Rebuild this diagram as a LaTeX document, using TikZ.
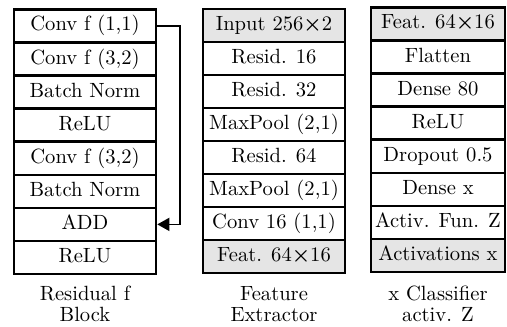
\documentclass[tikz,border=0pt]{standalone}
\usepackage{graphicx}
\usetikzlibrary{arrows.meta}
\newcommand{\celltext}[1]{\scalebox{2.06}{\fontsize{10}{12}\selectfont\strut #1}}
\newcommand{\captext}[1]{\scalebox{2.06}{\fontsize{10}{10.2}\selectfont\begin{tabular}{@{}c@{}}#1\end{tabular}}}
\begin{document}
\begin{tikzpicture}[x=1pt,y=-1pt,
  cell/.style={draw, line width=2.6pt, inner sep=0pt, minimum height=33.06pt},
  c12/.style={cell, minimum width=142pt},
  c3/.style={cell, minimum width=134pt},
  shade/.style={fill=black!10},
  captxt/.style={inner sep=0pt},
  conn/.style={line width=1.4pt, -{Triangle[length=12pt,width=13pt]}}
]
\useasboundingbox (0,0) rectangle (507,327);
% Column 1: Residual block
\foreach \t [count=\i] in {{Conv f (1,1)},{Conv f (3,2)},{Batch Norm},{ReLU},{Conv f (3,2)},{Batch Norm},{ADD},{ReLU}}
  \node[c12] (a\i) at (85,{9.5+33.06*(\i-0.5)}) {\celltext{\t}};
% Column 2: Feature extractor
\foreach \t [count=\i] in {{Input 256\textbf{×}2},{Resid. 16},{Resid. 32},{MaxPool (2,1)},{Resid. 64},{MaxPool (2,1)},{Conv 16 (1,1)},{Feat. 64\textbf{×}16}}
  \node[c12] (b\i) at (274,{9+33*(\i-0.5)}) {\celltext{\t}};
% Column 3: Classifier
\foreach \t [count=\i] in {{Feat. 64\textbf{×}16},{Flatten},{Dense 80},{ReLU},{Dropout 0.5},{Dense x},{Activ. Fun. Z},{Activations x}}
  \node[c3] (c\i) at (438,{7.5+33.06*(\i-0.5)}) {\celltext{\t}};
% re-draw shaded cells
\node[c12, shade] (b1s) at (b1) {\celltext{Input 256\textbf{×}2}};
\node[c12, shade] (b8s) at (b8) {\celltext{Feat. 64\textbf{×}16}};
\node[c3, shade] (c1s) at (c1) {\celltext{Feat. 64\textbf{×}16}};
\node[c3, shade] (c8s) at (c8) {\celltext{Activations x}};
% skip connection
\coordinate (k1) at (180,0);
\draw[conn] (a1.east) -- (a1.east -| k1) -- (a7.east -| k1) -- (a7.east);
% captions
\node[captxt] (capa) at (85,307) {\captext{Residual f\\Block}};
\node[captxt] (capb) at (274,307) {\captext{Feature\\Extractor}};
\node[captxt] (capc) at (438,307) {\captext{x Classifier\\activ. Z}};
\end{tikzpicture}
\end{document}
